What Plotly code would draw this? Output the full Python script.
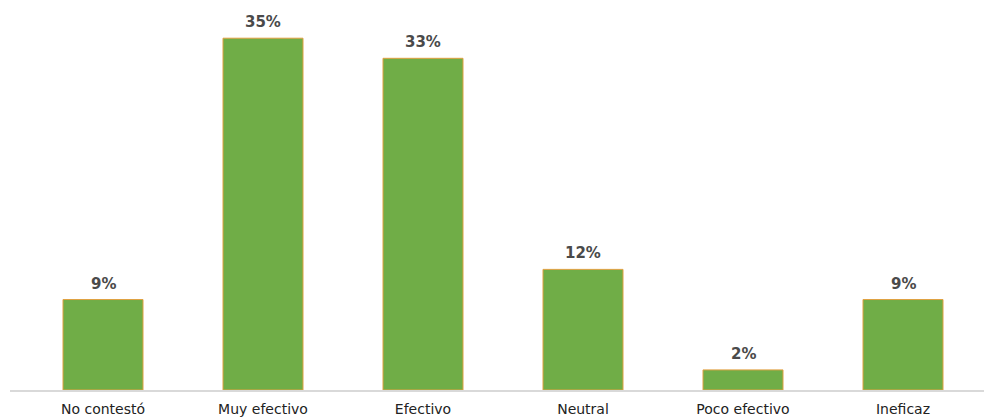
import plotly.graph_objects as go

categories = ["No contestó", "Muy efectivo", "Efectivo", "Neutral", "Poco efectivo", "Ineficaz"]
values = [9, 35, 33, 12, 2, 9]
labels = ["9%", "35%", "33%", "12%", "2%", "9%"]

fig = go.Figure(go.Bar(
    x=categories, y=values, width=0.5,
    marker=dict(color="#70AD47", line=dict(color="#E0A040", width=1)),
    hoverinfo="skip",
))

for c, v, t in zip(categories, values, labels):
    fig.add_annotation(x=c, y=v, text="<b>" + t + "</b>", showarrow=False,
                       yanchor="bottom", yshift=5,
                       font=dict(family="DejaVu Sans", size=15, color="#4a4a4a"))

fig.update_layout(
    width=984, height=417,
    margin=dict(l=10, r=0, t=0, b=27),
    plot_bgcolor="white", paper_bgcolor="white",
    showlegend=False,
    xaxis=dict(range=[-0.58125, 5.50625], showline=True, linecolor="#d9d9d9", linewidth=1.5,
               ticks="", showgrid=False, ticklabelstandoff=5,
               tickfont=dict(family="DejaVu Sans", size=14, color="#222222")),
    yaxis=dict(range=[0, 38.8], visible=False, showgrid=False),
)
fig.write_html("out.html")
